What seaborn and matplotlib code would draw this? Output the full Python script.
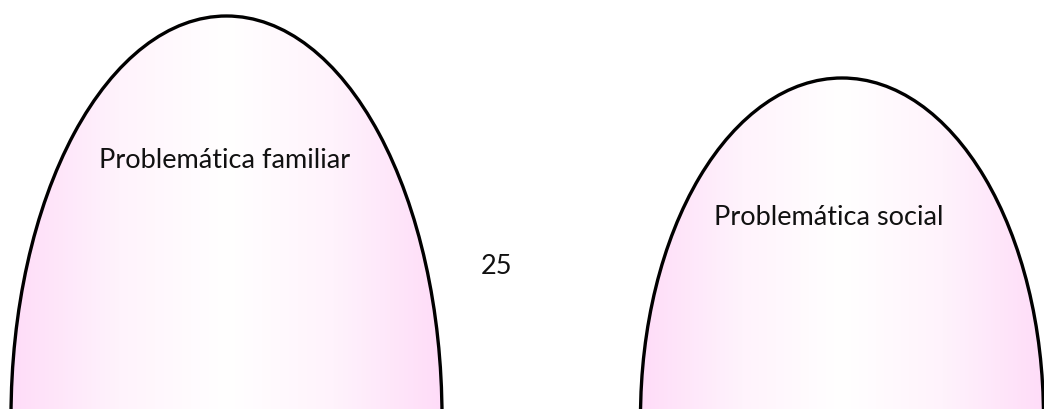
import matplotlib

matplotlib.use("Agg")
import matplotlib.pyplot as plt
import numpy as np
import seaborn as sns
from matplotlib.patches import Ellipse

# two arch shapes (ellipses cut by the bottom edge), in pixel units
labels = ["Problemática familiar", "Problemática social"]
center_x = [226.5, 842.0]
top_y = [17.0, 79.0]
half_width = [215.5, 201.5]
label_x = [225.0, 829.0]
label_y = [161.0, 218.0]
page_text = "25"
page_x, page_y = 496.0, 267.0

W, H = 1044, 410
CY = 418.0  # ellipse centres sit just below the bottom edge
PINK = "#fedcf8"

sns.set_theme(style="white")
plt.rcParams["font.family"] = ["Lato", "DejaVu Sans"]

grad = sns.blend_palette([PINK, "#fff3fc", "white", "#fff3fc", PINK], n_colors=256, as_cmap=True)

fig = plt.figure(figsize=(W / 100, H / 100), dpi=100)
ax = fig.add_axes([0, 0, 1, 1])
ax.set_xlim(0, W)
ax.set_ylim(H, 0)
ax.axis("off")

for lab, cx, ty, a, lx, ly in zip(labels, center_x, top_y, half_width, label_x, label_y):
    b = CY - ty
    shape = Ellipse((cx, CY), 2 * a, 2 * b, facecolor="none", edgecolor="black", lw=2.4, zorder=3)
    ax.add_patch(shape)
    xs = np.linspace(0, 1, 256)[None, :]
    img = ax.imshow(xs, cmap=grad, extent=(cx - a, cx + a, CY + b, ty), aspect="auto",
                    interpolation="bilinear", zorder=1)
    clip = Ellipse((cx, CY), 2 * a, 2 * b, transform=ax.transData)
    img.set_clip_path(clip)
    ax.text(lx, ly, lab, ha="center", va="center", fontsize=19.5, color="#111111", zorder=4)

ax.text(page_x, page_y, page_text, ha="center", va="center", fontsize=19.5, color="#111111")

ax.set_xlim(0, W)
ax.set_ylim(H, 0)
fig.savefig("out.png", dpi=100)
